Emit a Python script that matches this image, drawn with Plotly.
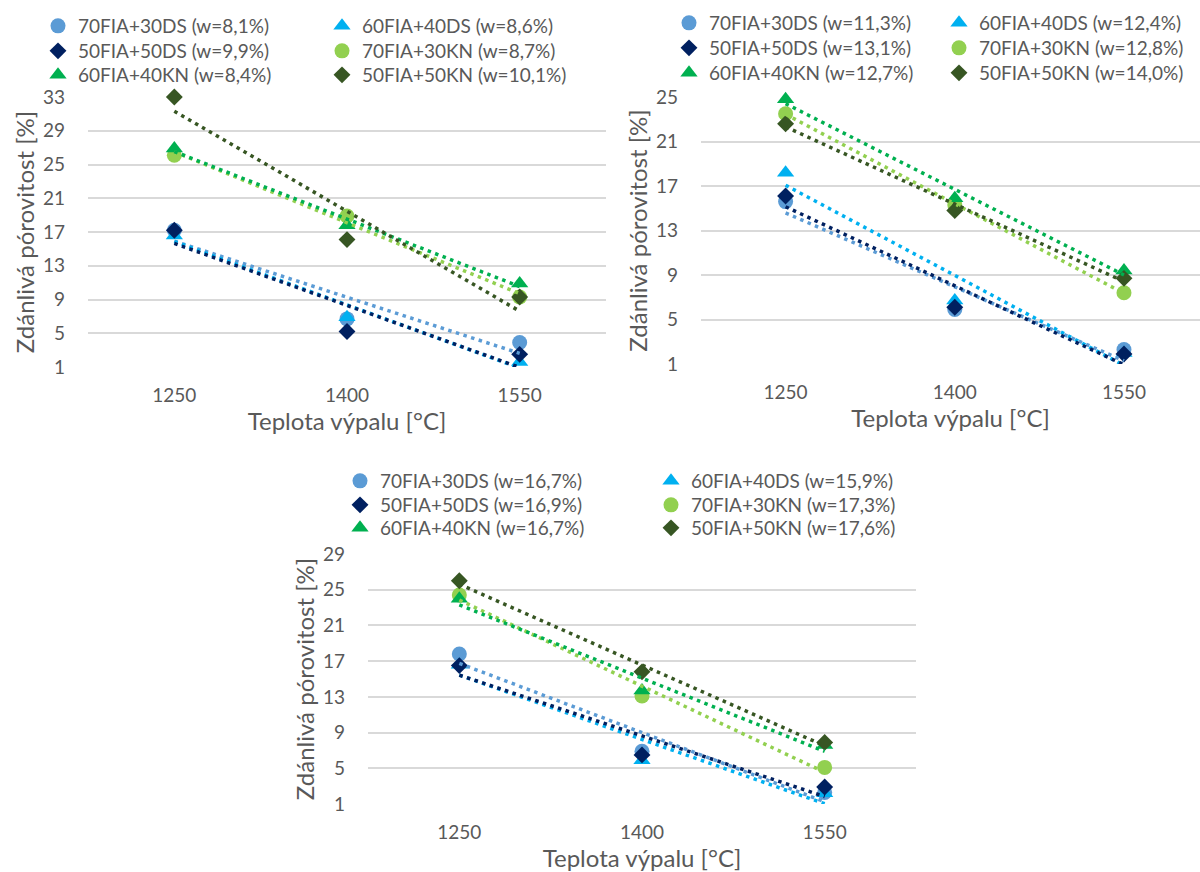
import numpy as np
import plotly.graph_objects as go

# ---------------- data ----------------
temps = [1250, 1400, 1550]
x_ticks = [1250, 1400, 1550]
series_names = ["70FIA+30DS", "60FIA+40DS", "50FIA+50DS",
                "70FIA+30KN", "60FIA+40KN", "50FIA+50KN"]

# panel 1 (top left)
w_p1 = ["8,1", "8,6", "9,9", "8,7", "8,4", "10,1"]
p1_70fia_30ds = [17.2, 6.7, 3.9]
p1_60fia_40ds = [16.6, 6.9, 1.6]
p1_50fia_50ds = [17.2, 5.2, 2.5]
p1_70fia_30kn = [26.1, 18.9, 9.3]
p1_60fia_40kn = [26.9, 17.8, 10.9]
p1_50fia_50kn = [33.0, 16.1, 9.3]

# panel 2 (top right)
w_p2 = ["11,3", "12,4", "13,1", "12,8", "12,7", "14,0"]
p2_70fia_30ds = [15.6, 5.9, 2.3]
p2_60fia_40ds = [18.2, 6.7, 2.0]
p2_50fia_50ds = [16.1, 6.1, 1.9]
p2_70fia_30kn = [23.5, 15.3, 7.4]
p2_60fia_40kn = [24.8, 15.9, 9.4]
p2_50fia_50kn = [22.6, 14.8, 8.7]

# panel 3 (bottom)
w_p3 = ["16,7", "15,9", "16,9", "17,3", "16,7", "17,6"]
p3_70fia_30ds = [17.8, 6.9, 2.3]
p3_60fia_40ds = [16.6, 5.9, 2.2]
p3_50fia_50ds = [16.5, 6.5, 2.9]
p3_70fia_30kn = [24.4, 13.1, 5.1]
p3_60fia_40kn = [24.0, 13.7, 7.6]
p3_50fia_50kn = [26.0, 15.8, 7.9]

y_max = [33, 25, 29]
y_title = "Zdánlivá pórovitost [%]"
x_title = "Teplota výpalu [°C]"

# ---------------- styles ----------------
colors = ["#5B9BD5", "#00B0F0", "#002060", "#92D050", "#00B050", "#375623"]
symbols = ["circle", "triangle-up", "diamond", "circle", "triangle-up", "diamond"]
msizes = [15, 15, 13, 15, 15, 13]
FONT = "Lato"
TXT = "#595959"
GRID = "#D9D9D9"
W, H = 1200, 872

panels = [
    dict(w=w_p1, vals=[p1_70fia_30ds, p1_60fia_40ds, p1_50fia_50ds,
                       p1_70fia_30kn, p1_60fia_40kn, p1_50fia_50kn],
         px=(88, 606), py=(97, 367), xr=(1175, 1625),
         cols=(38, 322), rows=(26, 51, 75)),
    dict(w=w_p2, vals=[p2_70fia_30ds, p2_60fia_40ds, p2_50fia_50ds,
                       p2_70fia_30kn, p2_60fia_40kn, p2_50fia_50kn],
         px=(701, 1200), py=(97, 364), xr=(1175, 1617.4),
         cols=(669, 939), rows=(23, 48, 73)),
    dict(w=w_p3, vals=[p3_70fia_30ds, p3_60fia_40ds, p3_50fia_50ds,
                       p3_70fia_30kn, p3_60fia_40kn, p3_50fia_50kn],
         px=(368, 916), py=(554, 804), xr=(1175, 1625),
         cols=(340, 651), rows=(481, 505, 528)),
]

fig = go.Figure()
layout_updates = {}
leg_counter = 0

for pi, p in enumerate(panels):
    k = "" if pi == 0 else str(pi + 1)
    xa, ya = "x" + k, "y" + k
    # markers, each legend entry in its own legend box (2-column grid)
    for si, name in enumerate(series_names):
        leg_counter += 1
        lname = "legend" if leg_counter == 1 else "legend" + str(leg_counter)
        lx = p["cols"][si % 2]
        ly = p["rows"][si // 2]
        layout_updates[lname] = dict(
            x=lx / W, y=1 - ly / H, xanchor="left", yanchor="middle",
            orientation="v", bgcolor="rgba(0,0,0,0)", borderwidth=0,
            font=dict(family=FONT, size=19, color=TXT),
            itemclick=False, itemdoubleclick=False,
        )
        fig.add_trace(go.Scatter(
            x=temps, y=p["vals"][si], mode="markers",
            name=f"{name} (w={p['w'][si]}%)",
            marker=dict(color=colors[si], symbol=symbols[si], size=msizes[si],
                        line=dict(width=0)),
            cliponaxis=False, xaxis=xa, yaxis=ya, legend=lname,
        ))
    # linear trendlines (dotted)
    for si, name in enumerate(series_names):
        coef = np.polyfit(temps, p["vals"][si], 1)
        xs = np.array([temps[0], temps[-1]])
        fig.add_trace(go.Scatter(
            x=xs, y=np.polyval(coef, xs), mode="lines",
            line=dict(color=colors[si], width=3.5, dash="3.5px,4.5px"),
            showlegend=False, hoverinfo="skip", cliponaxis=False,
            xaxis=xa, yaxis=ya,
        ))

    x0, x1 = p["px"]
    ytop, ybot = p["py"]
    layout_updates["xaxis" + k] = dict(
        domain=[x0 / W, x1 / W], range=list(p["xr"]), anchor=ya,
        tickvals=x_ticks, showgrid=False, zeroline=False, showline=False,
        ticks="", ticklabelstandoff=15, automargin=False,
        tickfont=dict(family=FONT, size=19, color=TXT),
        title=dict(text=x_title, font=dict(family=FONT, size=24, color=TXT), standoff=0),
    )
    layout_updates["yaxis" + k] = dict(
        domain=[1 - ybot / H, 1 - ytop / H], range=[1, y_max[pi]], anchor=xa,
        tick0=1, dtick=4, showgrid=True, gridcolor=GRID, gridwidth=1.5,
        zeroline=False, showline=False, ticks="", ticklabelstandoff=22,
        automargin=False,
        tickfont=dict(family=FONT, size=19, color=TXT),
        title=dict(text=y_title, font=dict(family=FONT, size=24, color=TXT), standoff=1),
    )

fig.update_layout(
    width=W, height=H, margin=dict(l=0, r=0, t=0, b=0, autoexpand=False),
    paper_bgcolor="white", plot_bgcolor="white",
    font=dict(family=FONT, color=TXT),
    showlegend=True,
    **layout_updates,
)

fig.write_html("out.html", config={"displayModeBar": False},
               post_script="document.body.style.margin='0';")
